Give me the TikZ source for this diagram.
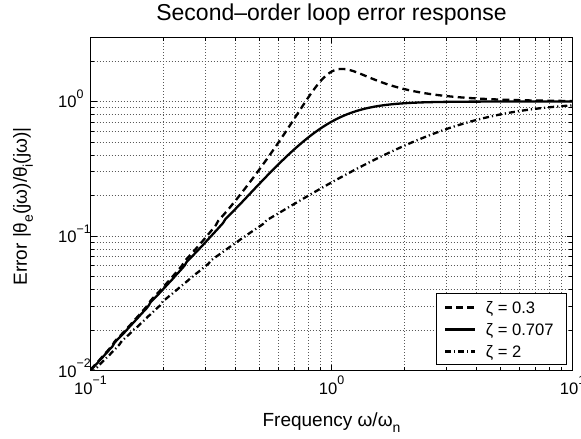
\documentclass[tikz,border=0pt]{standalone}
\usepackage{fontspec}
\setmainfont{Liberation Sans}
\usetikzlibrary{positioning}

% power-of-ten tick label, and a low subscript
\newcommand{\decade}[1]{10\raisebox{4.6pt}{\fontsize{6.2}{7}\selectfont #1}}
\newcommand{\lowsub}[1]{\raisebox{-3pt}{\fontsize{7}{8}\selectfont #1}}

\begin{document}
\begin{tikzpicture}[
  x=120.5pt, y=67.25pt,
  declare function={
    wn(\t)=pow(10,\t-1);
    emag(\w,\z)=\w*\w/sqrt((1-\w*\w)*(1-\w*\w)+4*\z*\z*\w*\w);
  },
  axisbox/.style   = {draw, line width=0.5pt},
  gridline/.style  = {black!65, line width=0.35pt, dash pattern=on 0.4pt off 1.1pt},
  tickmark/.style  = {line width=0.4pt},
  curve/.style     = {line width=1.15pt},
  zlow/.style      = {curve, dash pattern=on 3.4pt off 2.2pt},
  zmid/.style      = {curve},
  zhigh/.style     = {curve, dash pattern=on 3pt off 1.5pt on 0.6pt off 1.5pt},
  ticklabel/.style = {inner sep=0pt, font=\fontsize{8.3}{10}\selectfont},
  axislabel/.style = {inner sep=0pt, font=\fontsize{9.5}{11}\selectfont},
  legtext/.style   = {inner sep=0pt, font=\fontsize{8.3}{10}\selectfont}
]
\useasboundingbox (-45.25pt,-33.75pt) rectangle (245.25pt,185.25pt);
\pgfmathsetmacro\ymax{2+log10(3)}

% Axis corners
\coordinate (ll) at (0,0);
\coordinate (ur) at (2,\ymax);
\coordinate (top) at (1,\ymax);

% Grid and ticks (log decades)
\foreach \d in {0,1}
  \foreach \k in {2,...,9} {
    \pgfmathsetmacro\gx{\d+log10(\k)}
    \draw[gridline] (\gx,0) -- (\gx,\ymax);
    \draw[tickmark] (\gx,0) -- ++(0,1.8pt) (\gx,\ymax) -- ++(0,-1.8pt);
  }
\draw[gridline] (1,0) -- (1,\ymax);
\draw[tickmark] (1,0) -- ++(0,3pt) (1,\ymax) -- ++(0,-3pt);

\foreach \d/\kmax in {0/9,1/9,2/2}
  \foreach \k in {2,...,\kmax} {
    \pgfmathsetmacro\gy{\d+log10(\k)}
    \draw[gridline] (0,\gy) -- (2,\gy);
    \draw[tickmark] (0,\gy) -- ++(1.8pt,0) (2,\gy) -- ++(-1.8pt,0);
  }
\foreach \gy in {1,2} {
  \draw[gridline] (0,\gy) -- (2,\gy);
  \draw[tickmark] (0,\gy) -- ++(3pt,0) (2,\gy) -- ++(-3pt,0);
}

% Curves
\begin{scope}
  \clip (ll) rectangle (ur);
  \draw[zlow, domain=0:2, samples=201, variable=\t]
    plot ({\t},{2+log10(emag(wn(\t),0.3))});
  \draw[zmid, domain=0:2, samples=201, variable=\t]
    plot ({\t},{2+log10(emag(wn(\t),0.707))});
  \draw[zhigh, domain=0:2, samples=201, variable=\t]
    plot ({\t},{2+log10(emag(wn(\t),2))});
\end{scope}

\draw[axisbox] (ll) rectangle (ur);

% Tick labels
\foreach \e/\x in {−1/0,0/1,1/2}
  \node[ticklabel, anchor=base] (xt\x) at ([yshift=-11.75pt]\x,0) {\decade{\e}};
\foreach \e/\y in {−2/0,−1/1,0/2}
  \node[ticklabel, anchor=base east] (yt\y) at ([xshift=-6.75pt, yshift=-3.25pt]0,\y) {10\rlap{\raisebox{4.6pt}{\fontsize{6.2}{7}\selectfont\e}}};

% Title and axis labels
\node[inner sep=0pt, anchor=base, font=\fontsize{11.5}{14}\selectfont] (title)
  at ([yshift=8.3pt]top) {Second--order loop error response};
\node[axislabel, anchor=base] (xlab) at ([yshift=-27.75pt]1,0) {Frequency ω/ω\lowsub{n}};
\node[axislabel, anchor=base, rotate=90] (ylab) at ([xshift=-31.75pt]0,1.22)
  {Error |θ\lowsub{e}(jω)/θ\lowsub{i}(jω)|};

% Legend
\node[axisbox, fill=white, inner sep=0pt, minimum width=64.7pt, minimum height=35.5pt,
      anchor=south east] (legend) at ([xshift=-2.9pt, yshift=2.75pt]2,0) {};
\node[legtext, anchor=base west] (lg1) at ([xshift=24.6pt, yshift=26pt]legend.south west) {ζ = 0.3};
\node[legtext, below=11pt of lg1.base west, anchor=base west] (lg2) {ζ = 0.707};
\node[legtext, below=11pt of lg2.base west, anchor=base west] (lg3) {ζ = 2};
\foreach \n/\s in {1/zlow,2/zmid,3/zhigh}
  \draw[\s] ([xshift=-20.25pt, yshift=2.8pt]lg\n.base west) -- ++(15pt,0);

\end{tikzpicture}
\end{document}
